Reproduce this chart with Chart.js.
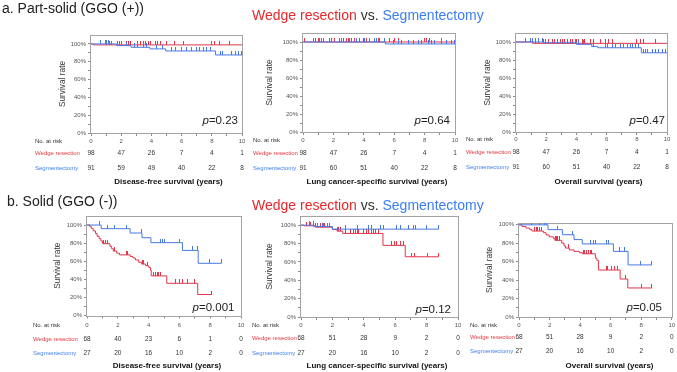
<!DOCTYPE html>
<html><head><meta charset="utf-8">
<script src="https://cdn.jsdelivr.net/npm/chart.js@4.4.1/dist/chart.umd.min.js"></script>
<style>
html,body{margin:0;padding:0;background:#fff;}
#wrap{position:relative;width:677px;height:372px;overflow:hidden;font-family:"Liberation Sans",Arial,sans-serif;}
canvas{position:absolute;left:0;top:0;}
.t{position:absolute;white-space:nowrap;font-size:14px;line-height:14px;color:#222;z-index:5;}
.r{color:#e8272b}.b{color:#3b7ef4}.v{color:#333}
</style></head><body>
<div id="wrap">
<div class="t" style="left:2px;top:1px">a. Part-solid (GGO (+))</div>
<div class="t" style="left:252px;top:8px"><span class="r">Wedge resection</span><span class="v"> vs. </span><span class="b">Segmentectomy</span></div>
<div class="t" style="left:7px;top:194px">b. Solid (GGO (-))</div>
<div class="t" style="left:252px;top:198px"><span class="r">Wedge resection</span><span class="v"> vs. </span><span class="b">Segmentectomy</span></div>
<canvas id="c0" width="677" height="372"></canvas>
<canvas id="c1" width="677" height="372"></canvas>
<canvas id="c2" width="677" height="372"></canvas>
<canvas id="c3" width="677" height="372"></canvas>
<canvas id="c4" width="677" height="372"></canvas>
<canvas id="c5" width="677" height="372"></canvas>
</div>
<script>
// ---------- DATA ----------
const xTicks = [0, 2, 4, 6, 8, 10];
const yTicks = [0, 10, 20, 30, 40, 50, 60, 70, 80, 90, 100];
const groupNames = ['Wedge resection', 'Segmentectomy'];
const riskHeader = 'No. at risk';
const axisTitles = ['Disease-free survival (years)', 'Lung cancer-specific survival (years)', 'Overall survival (years)',
                    'Disease-free survival (years)', 'Lung cancer-specific survival (years)', 'Overall survival (years)'];
const pValues = ['0.23', '0.64', '0.47', '0.001', '0.12', '0.05'];

// a. Part-solid, disease-free survival
const a1WedgeEvents = [[0.15, 98.9]];
const a1WedgeCensor = [1.04, 1.21, 1.37, 1.74, 1.88, 2.03, 2.32, 2.47, 2.63, 3.07, 3.25, 3.47, 3.64, 3.8, 3.95, 4.24, 4.39, 4.57, 5.01, 5.56, 6.12, 7.99, 8.21, 8.54, 9.2];
const a1SegEvents = [[1.7, 98.1], [2.65, 96.2], [3.9, 94.4], [4.95, 92.1], [8.25, 87.6]];
const a1SegCensor = [0.6, 0.98, 1.05, 1.15, 1.75, 2.05, 2.35, 2.9, 3.05, 3.45, 3.7, 4.35, 4.75, 5.35, 5.6, 6.0, 6.35, 6.65, 7.0, 7.2, 7.45, 7.65, 7.9, 8.55, 8.7, 9.3, 9.55, 9.75, 9.95];
const a1End = [10, 10];
const a1WedgeRisk = [98, 47, 26, 7, 4, 1];
const a1SegRisk = [91, 59, 49, 40, 22, 8];

// a. Part-solid, lung cancer-specific survival
const a2WedgeEvents = [];
const a2WedgeCensor = [0.13, 0.79, 1.0, 1.33, 1.88, 2.1, 2.43, 2.65, 2.87, 2.98, 3.2, 3.41, 3.74, 3.96, 4.18, 4.4, 4.94, 5.05, 5.71, 6.04, 6.26, 8.0, 8.12, 8.34, 9.1];
const a2SegEvents = [[5.42, 97.8]];
const a2SegCensor = [0.68, 1.11, 1.22, 1.77, 2.54, 3.09, 3.52, 4.07, 4.73, 4.84, 5.38, 5.93, 6.26, 6.48, 6.91, 7.24, 7.57, 7.79, 8.23, 8.45, 8.67, 9.1, 9.43, 9.76, 9.98];
const a2End = [10, 10];
const a2WedgeRisk = [98, 47, 26, 7, 4, 1];
const a2SegRisk = [91, 60, 51, 40, 22, 8];

// a. Part-solid, overall survival
const a3WedgeEvents = [[1.1, 98.5]];
const a3WedgeCensor = [1.3, 1.52, 1.85, 1.96, 2.13, 2.4, 2.58, 2.73, 2.95, 3.06, 3.24, 3.39, 3.61, 3.72, 3.99, 4.16, 4.38, 4.56, 4.93, 5.15, 5.59, 5.92, 6.14, 6.36, 8.0, 8.24, 8.46, 9.23];
const a3SegEvents = [[1.85, 99.2], [4.0, 97.4], [5.02, 94.9], [5.42, 93.6], [8.3, 88.0]];
const a3SegCensor = [0.64, 0.97, 1.08, 1.3, 1.52, 1.78, 3.94, 4.16, 4.49, 5.1, 5.92, 6.03, 6.36, 6.58, 6.92, 7.14, 7.36, 7.58, 7.73, 7.91, 8.08, 8.46, 8.57, 8.68, 9.01, 9.23, 9.45, 9.67, 9.89, 10.0];
const a3End = [10, 10];
const a3WedgeRisk = [98, 47, 26, 7, 4, 1];
const a3SegRisk = [91, 60, 51, 40, 22, 8];

// b. Solid, disease-free survival
const b1WedgeEvents = [[0.18, 98.1], [0.29, 96.3], [0.4, 93.6], [0.55, 90.6], [0.66, 87.6], [0.79, 85.0], [0.9, 82.4], [1.01, 79.4], [1.49, 76.4], [1.6, 73.8], [1.71, 71.2], [1.93, 68.9], [2.11, 67.0], [2.81, 65.2], [2.98, 63.7], [3.14, 61.4], [3.36, 58.8], [3.55, 56.9], [3.8, 55.1], [4.01, 53.2], [4.12, 50.2], [4.17, 43.8], [5.18, 35.6], [7.19, 23.2]];
const b1WedgeCensor = [1.1, 1.21, 1.32, 1.76, 2.55, 2.59, 2.66, 3.58, 3.69, 3.95, 4.35, 4.45, 4.56, 4.67, 4.78, 5.77, 5.99, 6.21, 6.54, 6.98, 8.08];
const b1SegEvents = [[0.92, 96.0], [2.8, 91.2], [3.57, 86.0], [4.15, 80.5], [6.2, 72.0], [7.22, 57.7]];
const b1SegCensor = [0.84, 1.34, 1.78, 2.59, 3.53, 4.78, 4.89, 5.04, 5.99, 6.86, 7.15, 7.96, 8.73];
const b1End = [8.1, 8.73];
const b1WedgeRisk = [68, 40, 23, 6, 1, 0];
const b1SegRisk = [27, 20, 16, 10, 2, 0];

// b. Solid, lung cancer-specific survival
const b2WedgeEvents = [[0.19, 99.3], [0.93, 97.8], [2.0, 95.3], [2.3, 93.5], [2.66, 91.0], [5.22, 78.0], [6.64, 65.6]];
const b2WedgeCensor = [0.36, 0.61, 0.95, 1.25, 1.5, 2.35, 2.42, 2.5, 2.83, 3.15, 3.32, 3.47, 3.57, 3.68, 4.0, 4.17, 4.32, 4.46, 4.63, 4.76, 4.95, 5.75, 5.94, 6.11, 6.33, 6.54, 7.02, 7.21, 8.06, 8.76];
const b2SegEvents = [[0.82, 98.5], [2.0, 95.7]];
const b2SegCensor = [0.51, 0.78, 1.08, 1.35, 1.46, 1.67, 1.84, 2.83, 3.57, 4.32, 4.46, 5.06, 5.23, 6.11, 6.33, 6.86, 7.17, 7.28, 8.02, 8.76];
const b2End = [8.76, 8.76];
const b2WedgeRisk = [68, 51, 28, 9, 2, 0];
const b2SegRisk = [27, 20, 16, 10, 2, 0];

// b. Solid, overall survival
const b3WedgeEvents = [[0.2, 98.2], [0.45, 96.5], [0.7, 94.8], [0.85, 93.3], [1.6, 91.5], [1.77, 89.0], [1.98, 87.0], [2.25, 85.2], [2.35, 83.2], [2.8, 80.2], [2.95, 77.0], [3.05, 74.8], [3.3, 72.8], [3.6, 71.2], [3.95, 69.8], [4.15, 68.6], [5.0, 64.0], [5.1, 61.5], [5.2, 51.0], [6.62, 41.2], [7.12, 31.5]];
const b3WedgeCensor = [1.02, 1.13, 1.24, 1.34, 1.45, 2.4, 2.47, 2.54, 2.62, 3.26, 4.22, 4.32, 4.43, 4.54, 4.65, 4.75, 5.71, 5.82, 6.03, 6.24, 6.46, 6.99, 8.05, 8.7];
const b3SegEvents = [[1.9, 94.8], [2.84, 89.3], [3.6, 84.0], [4.14, 79.3], [6.18, 71.2], [7.14, 56.5]];
const b3SegCensor = [0.81, 1.34, 1.7, 1.82, 2.52, 3.52, 4.65, 4.85, 5.0, 5.75, 5.85, 6.57, 6.89, 7.95, 8.7];
const b3End = [8.7, 8.7];
const b3WedgeRisk = [68, 51, 28, 9, 2, 0];
const b3SegRisk = [27, 20, 16, 10, 2, 0];

// ---------- STYLE / LAYOUT ----------
const FONT = '"Liberation Sans", Arial, sans-serif';
const RED = '#e1364b', BLUE = '#4778e4';
const RED_TXT = '#e0393e', BLUE_TXT = '#3f7ff0';

const panels = [
  {d:[a1WedgeEvents,a1WedgeCensor,a1SegEvents,a1SegCensor,a1End,a1WedgeRisk,a1SegRisk],
   L:{plotL:91, plotR:242, plotT:35, plotB:133, yMax:110, yTitleX:63, labelX:35, tickY:141, wedgeY:153.5, segY:168, xTitleX:168.5, xTitleY:182, pRight:238, pBase:124}},
  {d:[a2WedgeEvents,a2WedgeCensor,a2SegEvents,a2SegCensor,a2End,a2WedgeRisk,a2SegRisk],
   L:{plotL:303, plotR:455, plotT:33, plotB:132, yMax:110, yTitleX:270, labelX:253, tickY:140, wedgeY:153, segY:168, xTitleX:377, xTitleY:182, pRight:450, pBase:124}},
  {d:[a3WedgeEvents,a3WedgeCensor,a3SegEvents,a3SegCensor,a3End,a3WedgeRisk,a3SegRisk],
   L:{plotL:516, plotR:667, plotT:33, plotB:132, yMax:110, yTitleX:488, labelX:466, tickY:139.5, wedgeY:152.5, segY:167, xTitleX:598.5, xTitleY:182, pRight:665, pBase:124}},
  {d:[b1WedgeEvents,b1WedgeCensor,b1SegEvents,b1SegCensor,b1End,b1WedgeRisk,b1SegRisk],
   L:{plotL:87, plotR:241, plotT:216, plotB:315.5, yMax:110, yTitleX:58, labelX:33, tickY:325, wedgeY:339, segY:353, xTitleX:167, xTitleY:365.5, pRight:234.5, pBase:310.7}},
  {d:[b2WedgeEvents,b2WedgeCensor,b2SegEvents,b2SegCensor,b2End,b2WedgeRisk,b2SegRisk],
   L:{plotL:301, plotR:458, plotT:216, plotB:317, yMax:110, yTitleX:270, labelX:252, tickY:325, wedgeY:338.7, segY:353, xTitleX:377, xTitleY:365.5, pRight:451, pBase:313}},
  {d:[b3WedgeEvents,b3WedgeCensor,b3SegEvents,b3SegCensor,b3End,b3WedgeRisk,b3SegRisk],
   L:{plotL:519, plotR:673.5, plotT:223, plotB:317, yMax:102, yTitleX:490, labelX:470, tickY:325.5, wedgeY:337, segY:351.5, xTitleX:609.5, xTitleY:365.5, pRight:662, pBase:311.3}},
];

function kmLine(events, endT) {
  const pts = [{x: 0, y: 100}];
  let s = 100;
  events.forEach(([t, v]) => { pts.push({x: t, y: v}); s = v; });
  pts.push({x: endT, y: s});
  return pts;
}
function survAt(events, t) {
  let s = 100;
  events.forEach(([et, v]) => { if (et <= t) s = v; });
  return s;
}
function censorPts(events, times) { return times.map(t => ({x: t, y: survAt(events, t)})); }
function tickImg(color) {
  const c = document.createElement('canvas');
  c.width = 1; c.height = 8;
  const g = c.getContext('2d');
  g.fillStyle = color; g.fillRect(0, 0, 1, 4);
  return c;
}
const redTick = tickImg(RED), blueTick = tickImg(BLUE);

const panelPlugin = {
  id: 'panel',
  beforeDatasetsDraw(chart) {
    const a = chart.chartArea, ctx = chart.ctx;
    ctx.save();
    ctx.strokeStyle = '#a3a3a3'; ctx.lineWidth = 1;
    ctx.strokeRect(Math.round(a.left) - 0.5, Math.round(a.top) + 0.5, Math.round(a.right - a.left) + 1, Math.round(a.bottom - a.top));
    ctx.restore();
  },
  afterDraw(chart) {
    const o = chart.options.plugins.panel;
    const ctx = chart.ctx, x = chart.scales.x;
    ctx.save();
    ctx.textBaseline = 'middle'; ctx.textAlign = 'left';
    ctx.font = '6px ' + FONT;
    ctx.fillStyle = '#333'; ctx.fillText(riskHeader, o.labelX, o.tickY);
    ctx.fillStyle = RED_TXT; ctx.fillText(groupNames[0], o.labelX, o.wedgeY);
    ctx.fillStyle = BLUE_TXT; ctx.fillText(groupNames[1], o.labelX, o.segY);
    ctx.textAlign = 'center'; ctx.font = '6.5px ' + FONT; ctx.fillStyle = '#333';
    xTicks.forEach((t, i) => {
      const px = x.getPixelForValue(t);
      ctx.fillText(String(o.wedgeRisk[i]), px, o.wedgeY);
      ctx.fillText(String(o.segRisk[i]), px, o.segY);
    });
    ctx.font = 'bold 8px ' + FONT; ctx.fillStyle = '#111';
    ctx.fillText(o.xTitle, o.xTitleX, o.xTitleY);
    // p-value
    ctx.textBaseline = 'alphabetic'; ctx.textAlign = 'right';
    ctx.font = '11.5px ' + FONT; ctx.fillStyle = '#222';
    const rest = '=' + o.p;
    const w = ctx.measureText(rest).width;
    ctx.fillText(rest, o.pRight, o.pBase);
    ctx.font = 'italic 11.5px ' + FONT;
    ctx.fillText('p', o.pRight - w, o.pBase);
    ctx.restore();
  }
};

panels.forEach((P, idx) => {
  const [wE, wC, sE, sC, end, wR, sR] = P.d;
  const L = P.L;
  const padLeft = L.yTitleX - 8.3 * 1.2 / 2;
  const XH = 20;
  new Chart(document.getElementById('c' + idx), {
    type: 'scatter',
    data: {
      datasets: [
        {data: censorPts(sE, sC), pointStyle: blueTick, pointRadius: 3, showLine: false},
        {data: kmLine(sE, end[1]), showLine: true, stepped: 'before', borderColor: BLUE, borderWidth: 1, pointRadius: 0, fill: false},
        {data: censorPts(wE, wC), pointStyle: redTick, pointRadius: 3, showLine: false},
        {data: kmLine(wE, end[0]), showLine: true, stepped: 'before', borderColor: RED, borderWidth: 1, pointRadius: 0, fill: false},
      ]
    },
    options: {
      responsive: false, animation: false, events: [],
      layout: {padding: {left: padLeft, top: L.plotT, right: 677 - L.plotR, bottom: 372 - L.plotB - XH}},
      plugins: {
        legend: {display: false}, tooltip: {enabled: false},
        panel: {labelX: L.labelX, tickY: L.tickY, wedgeY: L.wedgeY, segY: L.segY, xTitle: axisTitles[idx],
                xTitleX: L.xTitleX, xTitleY: L.xTitleY, p: pValues[idx], pRight: L.pRight, pBase: L.pBase,
                wedgeRisk: wR, segRisk: sR}
      },
      scales: {
        x: {
          type: 'linear', min: 0, max: 10,
          border: {display: false},
          grid: {display: true, drawOnChartArea: false, drawTicks: true, tickLength: 3, color: '#8a8a8a'},
          ticks: {stepSize: 1, autoSkip: false, maxRotation: 0, padding: L.tickY - L.plotB - 6.6,
                  color: '#555', font: {size: 6, family: FONT},
                  callback: v => (v % 2 === 0 ? String(v) : '')},
          afterFit: s => { s.height = XH; }
        },
        y: {
          type: 'linear', min: 0, max: L.yMax,
          border: {display: false},
          grid: {display: true, drawOnChartArea: false, drawTicks: true, tickLength: 3, color: '#8a8a8a'},
          ticks: {stepSize: 10, autoSkip: false, includeBounds: false, padding: 2, color: '#555', font: {size: 6, family: FONT},
                  callback: v => (v % 20 === 0 && v <= 100 ? v + '%' : '')},
          afterBuildTicks: s => { s.ticks = yTicks.map(v => ({value: v})); },
          title: {display: true, text: 'Survival rate', color: '#333', padding: 0, font: {size: 8.3, family: FONT}},
          afterFit: s => { s.width = L.plotL - padLeft; }
        }
      }
    },
    plugins: [panelPlugin]
  });
});
</script>
</body></html>
